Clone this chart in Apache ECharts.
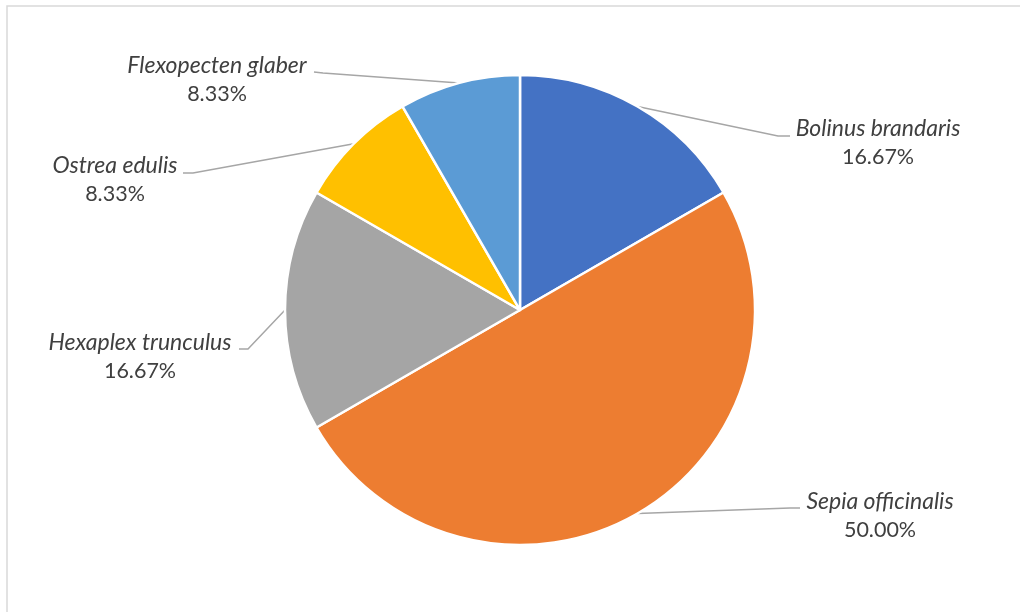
<!DOCTYPE html>
<html>
<head>
<meta charset="utf-8">
<script src="https://cdn.jsdelivr.net/npm/echarts@6/dist/echarts.min.js"></script>
<style>
html,body{margin:0;padding:0;background:#fff;}
#c{width:1020px;height:612px;}
</style>
</head>
<body>
<div id="c"></div>
<script>
// ---- data ----
var categories = ['Bolinus brandaris', 'Sepia officinalis', 'Hexaplex trunculus', 'Ostrea edulis', 'Flexopecten glaber'];
var counts = [2, 6, 2, 1, 1];
var colors = ['#4472C4', '#ED7D31', '#A5A5A5', '#FFC000', '#5B9BD5'];

// ---- label layout (text block centre, elbow, line end) ----
var labelSpots = [
  {cx: 878, cy: 143, ex: 778, ey: 136, lx: 790, ly: 136},
  {cx: 880, cy: 516, ex: 790, ey: 508, lx: 800, ly: 508},
  {cx: 140, cy: 357, ex: 248, ey: 349, lx: 239, ly: 349},
  {cx: 115, cy: 180, ex: 193, ey: 173, lx: 183, ly: 173},
  {cx: 217, cy: 80,  ex: 323, ey: 73,  lx: 314, ly: 72}
];

var total = counts.reduce(function(a, b){ return a + b; }, 0);
var pieData = categories.map(function(name, i){
  return {name: name, value: counts[i], itemStyle: {color: colors[i]}};
});

var chart = echarts.init(document.getElementById('c'));
chart.setOption({
  animation: false,
  graphic: [{
    type: 'rect',
    shape: {x: 7, y: 6, width: 1030, height: 640},
    style: {fill: 'none', stroke: '#D9D9D9', lineWidth: 1.5},
    silent: true
  }],
  series: [{
    type: 'pie',
    center: [520, 310],
    radius: 235,
    startAngle: 90,
    clockwise: true,
    data: pieData,
    itemStyle: {borderColor: '#ffffff', borderWidth: 2.5},
    label: {
      show: true,
      align: 'center',
      formatter: function(p){
        return '{n|' + p.name + '}\n{p|' + (p.value / total * 100).toFixed(2) + '%}';
      },
      rich: {
        n: {fontFamily: 'Lato', fontStyle: 'italic', fontSize: 23, color: '#404040', lineHeight: 29, align: 'center'},
        p: {fontFamily: 'Lato', fontSize: 21.5, color: '#404040', lineHeight: 29, align: 'center'}
      }
    },
    labelLine: {show: true, lineStyle: {color: '#A6A6A6', width: 1.5}},
    labelLayout: function(params){
      var s = labelSpots[params.dataIndex];
      var start = params.labelLinePoints ? params.labelLinePoints[0] : [s.ex, s.ey];
      return {
        x: s.cx,
        y: s.cy,
        align: 'center',
        verticalAlign: 'middle',
        labelLinePoints: [start, [s.ex, s.ey], [s.lx, s.ly]]
      };
    }
  }]
});
</script>
</body>
</html>
